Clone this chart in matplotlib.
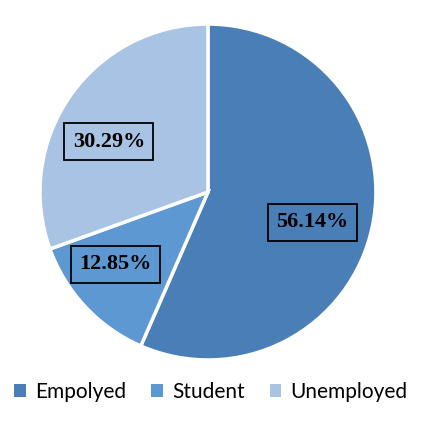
import matplotlib
matplotlib.use("Agg")
import matplotlib.pyplot as plt
from matplotlib.patches import Patch

labels = ["Empolyed", "Student", "Unemployed"]
shares = [56.14, 12.85, 30.29]
colors = ["#4a7eb6", "#5d98d2", "#a8c3e3"]

# where each percentage box sits, in pie units (radius 1)
label_pos = [(0.62, -0.18), (-0.55, -0.43), (-0.59, 0.30)]

fig = plt.figure(figsize=(4.42, 4.22), dpi=100)
ax = fig.add_axes([0.0905, 0.147, 0.760, 0.796])

wedges, texts, autotexts = ax.pie(
    shares, colors=colors, startangle=90, counterclock=False,
    autopct="%.2f%%", pctdistance=0.67,
    wedgeprops=dict(edgecolor="white", linewidth=2.5),
)

# labels: bold serif with a thin black frame, showing the original values
for t, v, p in zip(autotexts, shares, label_pos):
    t.set_text(f"{v:.2f}%")
    t.set_position(p)
    t.set_fontfamily("Liberation Serif")
    t.set_fontweight("bold")
    t.set_fontsize(16)
    t.set_color("black")
    t.set_bbox(dict(boxstyle="square,pad=0.38", facecolor="none",
                    edgecolor="black", linewidth=1.3))

ax.set_xlim(-1, 1)
ax.set_ylim(-1, 1)
ax.set_aspect("equal")

handles = [Patch(facecolor=c, edgecolor="none") for c in colors]
fig.legend(handles, labels, loc="center", bbox_to_anchor=(0.477, 0.071),
           ncol=3, frameon=False, handlelength=0.55, handleheight=0.55,
           handletextpad=0.45, columnspacing=1.2,
           prop={"family": "Lato", "size": 15})

fig.savefig("out.png", dpi=100)
